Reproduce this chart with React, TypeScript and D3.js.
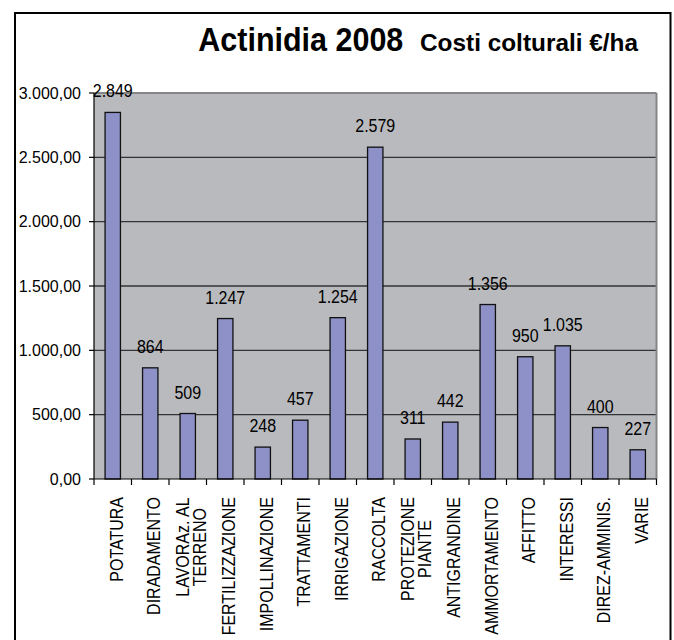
import React from "react";
import * as d3 from "d3";

const categories = [
  "POTATURA",
  "DIRADAMENTO",
  "LAVORAz. AL\nTERRENO",
  "FERTILIZZAZIONE",
  "IMPOLLINAZIONE",
  "TRATTAMENTI",
  "IRRIGAZIONE",
  "RACCOLTA",
  "PROTEZIONE\nPIANTE",
  "ANTIGRANDINE",
  "AMMORTAMENTO",
  "AFFITTO",
  "INTERESSI",
  "DIREZ-AMMINIS.",
  "VARIE",
];
const values = [2849, 864, 509, 1247, 248, 457, 1254, 2579, 311, 442, 1356, 950, 1035, 400, 227];
const yTicks = [0, 500, 1000, 1500, 2000, 2500, 3000];
const titleMain = "Actinidia 2008";
const titleSub = "Costi colturali €/ha";

const W = 674;
const H = 640;
const FONT = "'Liberation Sans', Arial, sans-serif";
const LBL_SIZE = 18.5;
const LBL_SX = 0.865;

const loc = d3.formatLocale({ decimal: ",", thousands: ".", grouping: [3], currency: ["€", ""] });
const tickFmt = loc.format(",.2f");
const valFmt = loc.format(",d");

let ctx: CanvasRenderingContext2D | null = null;
function measure(t: string, size: number) {
  if (!ctx) {
    const c = document.createElement("canvas");
    ctx = c.getContext("2d");
  }
  if (!ctx) return t.length * size * 0.6;
  ctx.font = `${size}px 'Liberation Sans', Arial, sans-serif`;
  return ctx.measureText(t).width;
}

export default function App() {
  const left = 94;
  const right = 656.5;
  const top = 93;
  const bottom = 479;

  const x = d3.scaleBand<string>().domain(categories).range([left, right]).padding(0);
  const y = d3.scaleLinear().domain([0, 3000]).range([bottom, top]);
  const bw = x.bandwidth();
  const barW = bw * 0.41;

  return (
    <svg
      width={W}
      height={H}
      style={{ position: "absolute", left: 0, top: 0, background: "#fff" }}
      fontFamily={FONT}
    >
      <rect x={0} y={0} width={W} height={H} fill="#fff" />
      {/* outer frame */}
      <rect x={15} y={13} width={655.5} height={700} fill="none" stroke="#000" strokeWidth={2} />

      {/* title */}
      <text x={198.3} y={50.5} fontSize={34} fontWeight="bold" textLength={205} lengthAdjust="spacingAndGlyphs">
        {titleMain}
      </text>
      <text x={420} y={50.5} fontSize={24.5} fontWeight="bold" textLength={218} lengthAdjust="spacingAndGlyphs">
        {titleSub}
      </text>

      {/* plot background */}
      <rect x={left} y={top} width={right - left} height={bottom - top} fill="#b9babd" />

      {/* gridlines */}
      {yTicks
        .filter((t) => t > 0 && t < 3000)
        .map((t) => (
          <line key={t} x1={left} x2={right} y1={y(t)} y2={y(t)} stroke="#333" strokeWidth={1.3} />
        ))}
      {/* plot border top/right */}
      <line x1={left} x2={right} y1={top} y2={top} stroke="#858585" strokeWidth={2} />
      <line x1={right} x2={right} y1={top} y2={bottom} stroke="#858585" strokeWidth={2} />

      {/* bars */}
      {categories.map((c, i) => {
        const cx = (x(c) as number) + bw / 2;
        const v = values[i];
        return (
          <g key={c}>
            <rect
              x={cx - barW / 2}
              y={y(v)}
              width={barW}
              height={y(0) - y(v)}
              fill="#8e90c8"
              stroke="#111"
              strokeWidth={1.3}
            />
            <text
              transform={`translate(${cx},${y(v) - 15}) scale(${LBL_SX},1)`}
              textAnchor="middle"
              fontSize={LBL_SIZE}
              fill="#000"
            >
              {valFmt(v)}
            </text>
          </g>
        );
      })}

      {/* y axis */}
      <line x1={left} x2={left} y1={top} y2={bottom} stroke="#000" strokeWidth={1.2} />
      {yTicks.map((t) => (
        <g key={t}>
          <line x1={left - 5} x2={left} y1={y(t)} y2={y(t)} stroke="#000" strokeWidth={1.2} />
          <text x={81} y={y(t)} dy="0.35em" textAnchor="end" fontSize={16} fill="#000">
            {tickFmt(t)}
          </text>
        </g>
      ))}

      {/* x axis */}
      <line x1={left} x2={right} y1={bottom} y2={bottom} stroke="#000" strokeWidth={1.2} />
      {categories.map((c) => (
        <line
          key={"t" + c}
          x1={x(c) as number}
          x2={x(c) as number}
          y1={bottom}
          y2={bottom + 6}
          stroke="#000"
          strokeWidth={1.2}
        />
      ))}
      <line x1={right} x2={right} y1={bottom} y2={bottom + 6} stroke="#000" strokeWidth={1.2} />

      {/* category labels */}
      {categories.map((c) => {
        const cx = (x(c) as number) + bw / 2;
        const lines = c.split("\n");
        const n = lines.length;
        const lmax = Math.max(...lines.map((l) => measure(l, LBL_SIZE) * LBL_SX));
        const cy = 497 + lmax / 2;
        return (
          <g key={"l" + c}>
            {lines.map((l, i) => (
              <text
                key={i}
                transform={`translate(${cx + 10 + (i - (n - 1) / 2) * 17},${cy}) rotate(-90) scale(${LBL_SX},1)`}
                textAnchor="middle"
                fontSize={LBL_SIZE}
                fill="#000"
              >
                {l}
              </text>
            ))}
          </g>
        );
      })}
    </svg>
  );
}
